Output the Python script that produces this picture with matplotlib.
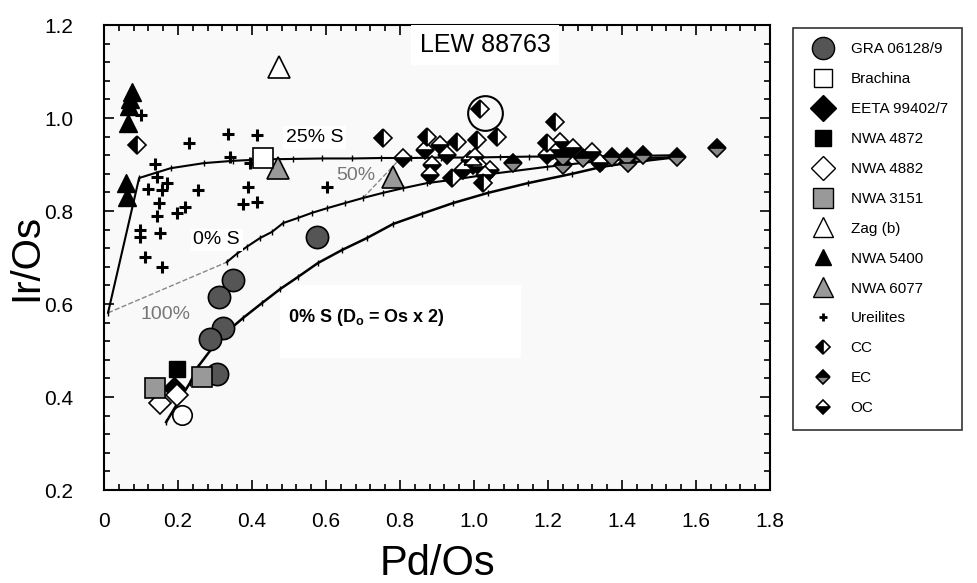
import numpy as np
import matplotlib
matplotlib.use("Agg")
import matplotlib.pyplot as plt
from matplotlib.lines import Line2D
from matplotlib.patches import Rectangle

plt.rcParams['font.family'] = ['Liberation Sans', 'DejaVu Sans']
plt.rcParams['mathtext.fontset'] = 'custom'
plt.rcParams['mathtext.rm'] = 'Liberation Sans'
plt.rcParams['mathtext.bf'] = 'Liberation Sans:bold'

# ---- data ----
gra_x = [0.349, 0.311, 0.322, 0.286, 0.305, 0.576]
gra_y = [0.652, 0.615, 0.548, 0.525, 0.449, 0.744]
brachina_x = [0.43]
brachina_y = [0.914]
eeta_x = [0.19]
eeta_y = [0.42]
nwa4872_x = [0.197]
nwa4872_y = [0.460]
nwa4882_x = [0.151, 0.197]
nwa4882_y = [0.387, 0.404]
nwa3151_x = [0.138, 0.265]
nwa3151_y = [0.419, 0.443]
zag_x = [0.473]
zag_y = [1.11]
nwa5400_x = [0.075, 0.070, 0.068, 0.065, 0.060, 0.063]
nwa5400_y = [1.055, 1.040, 1.025, 0.990, 0.860, 0.830]
nwa6077_x = [0.470, 0.781]
nwa6077_y = [0.892, 0.873]
ure_x = [0.100, 0.335, 0.413, 0.230, 0.340, 0.395, 0.138, 0.143, 0.170, 0.119,
         0.157, 0.254, 0.390, 0.149, 0.219, 0.197, 0.376, 0.413, 0.143, 0.097,
         0.097, 0.151, 0.111, 0.157, 0.603]
ure_y = [1.006, 0.966, 0.964, 0.946, 0.916, 0.903, 0.901, 0.873, 0.860, 0.847,
         0.845, 0.845, 0.852, 0.817, 0.809, 0.796, 0.815, 0.819, 0.789, 0.759,
         0.744, 0.753, 0.701, 0.680, 0.852]
cc_x = [0.089, 0.755, 1.016, 0.873, 1.062, 1.219, 0.954, 1.008, 1.197, 0.941, 1.024]
cc_y = [0.942, 0.957, 1.019, 0.959, 0.959, 0.991, 0.948, 0.953, 0.946, 0.871, 0.860]
ec_x = [1.105, 1.241, 1.241, 1.295, 1.373, 1.414, 1.416, 1.457, 1.549, 1.657]
ec_y = [0.903, 0.916, 0.899, 0.914, 0.916, 0.916, 0.903, 0.920, 0.916, 0.935]
oc_x = [0.808, 0.868, 0.886, 0.881, 0.908, 0.927, 0.989, 1.016, 1.043, 0.970,
        1.214, 1.232, 1.197, 1.268, 1.319, 1.341, 0.997, 1.030, 1.003]
oc_y = [0.914, 0.931, 0.899, 0.877, 0.942, 0.920, 0.910, 0.895, 0.888, 0.888,
        0.931, 0.948, 0.920, 0.935, 0.927, 0.903, 0.900, 0.878, 0.916]
lew_open_x = [0.211]
lew_open_y = [0.361]
lew_ring_x = [1.03]
lew_ring_y = [1.011]

# mixing curves
c25_x = [0.011, 0.095, 0.18, 0.27, 0.35, 0.43, 0.51, 0.59, 0.67, 0.75, 0.83, 0.91,
         0.99, 1.07, 1.15, 1.23, 1.31, 1.39, 1.47, 1.55]
c25_y = [0.581, 0.871, 0.892, 0.903, 0.908, 0.911, 0.912, 0.913, 0.913, 0.914, 0.914,
         0.915, 0.915, 0.916, 0.917, 0.917, 0.918, 0.918, 0.919, 0.920]
c0_x = [0.332, 0.359, 0.386, 0.422, 0.454, 0.484, 0.524, 0.562, 0.603, 0.651, 0.700,
        0.754, 0.808, 0.873, 0.941, 1.049, 1.197, 1.346, 1.468, 1.549]
c0_y = [0.690, 0.708, 0.723, 0.742, 0.755, 0.774, 0.785, 0.796, 0.806, 0.817, 0.828,
        0.839, 0.849, 0.860, 0.867, 0.880, 0.895, 0.908, 0.914, 0.916]
c0d_x = [0.168, 0.232, 0.254, 0.295, 0.332, 0.376, 0.427, 0.476, 0.524, 0.578, 0.643,
         0.711, 0.781, 0.859, 0.943, 1.038, 1.146, 1.265, 1.346, 1.430, 1.549]
c0d_y = [0.346, 0.430, 0.465, 0.508, 0.540, 0.570, 0.602, 0.632, 0.658, 0.688, 0.716,
         0.742, 0.772, 0.794, 0.817, 0.839, 0.860, 0.880, 0.895, 0.905, 0.916]
dash100_x = [0.011, 0.332]
dash100_y = [0.581, 0.690]
dash50_x = [0.700, 0.800]
dash50_y = [0.828, 0.912]

fig = plt.figure(figsize=(9.77, 5.83), dpi=100)
ax = fig.add_axes([0.1064, 0.1595, 0.6817, 0.7976])
ax.set_facecolor('#f9f9f9')

# white panel behind the bold label
ax.add_patch(Rectangle((0.476, 0.484), 0.65, 0.157, facecolor='white', edgecolor='none', zorder=1))

# curves
ax.plot(dash100_x, dash100_y, color='#888888', lw=1, ls='--', zorder=2)
ax.plot(dash50_x, dash50_y, color='#888888', lw=1, ls='--', zorder=2)
ax.plot(c25_x, c25_y, color='black', lw=1.5, marker='|', ms=5, mew=1, zorder=3)
ax.plot(c0_x, c0_y, color='black', lw=1.5, marker='|', ms=5, mew=1, zorder=3)
ax.plot(c0d_x, c0d_y, color='black', lw=1.8, marker='|', ms=5, mew=1, zorder=3)

# chondrites
ax.plot(oc_x, oc_y, ls='none', marker='D', ms=9, mfc='black', mfcalt='white',
        fillstyle='bottom', mec='black', mew=1.2, zorder=4)
ax.plot(cc_x, cc_y, ls='none', marker='D', ms=9, mfc='black', mfcalt='white',
        fillstyle='left', mec='black', mew=1.2, zorder=4)
ax.plot(ec_x, ec_y, ls='none', marker='D', ms=9, mfc='black', mfcalt='#888888',
        fillstyle='top', mec='black', mew=1.2, zorder=4)

ax.plot(ure_x, ure_y, ls='none', marker='+', ms=8, mew=2.2, color='black', zorder=4)
ax.plot(nwa5400_x, nwa5400_y, ls='none', marker='^', ms=13, mfc='black', mec='black', zorder=5)
ax.plot(nwa6077_x, nwa6077_y, ls='none', marker='^', ms=16, mfc='#999999', mec='black', mew=1.2, zorder=5)
ax.plot(zag_x, zag_y, ls='none', marker='^', ms=16, mfc='white', mec='black', mew=1.2, zorder=5)
ax.plot(gra_x, gra_y, ls='none', marker='o', ms=16, mfc='#555555', mec='black', mew=1.2, zorder=5)
ax.plot(lew_open_x, lew_open_y, ls='none', marker='o', ms=14, mfc='white', mec='black', mew=1.2, zorder=6)
ax.plot(eeta_x, eeta_y, ls='none', marker='D', ms=11, mfc='black', mec='black', zorder=6)
ax.plot(nwa4872_x, nwa4872_y, ls='none', marker='s', ms=12, mfc='black', mec='black', zorder=6)
ax.plot(nwa4882_x, nwa4882_y, ls='none', marker='D', ms=11, mfc='white', mec='black', mew=1.2, zorder=7)
ax.plot(nwa3151_x, nwa3151_y, ls='none', marker='s', ms=14, mfc='#999999', mec='black', mew=1.2, zorder=7)
ax.plot(brachina_x, brachina_y, ls='none', marker='s', ms=15, mfc='white', mec='black', mew=1.2, zorder=5)
ax.plot(lew_ring_x, lew_ring_y, ls='none', marker='o', ms=25, mfc='none', mec='black', mew=1.5, zorder=6)

# annotations
ax.text(1.03, 1.157, 'LEW 88763', fontsize=18, ha='center', va='center', zorder=8,
        bbox=dict(facecolor='white', edgecolor='none', pad=6))
ax.text(0.57, 0.958, '25% S', fontsize=14, ha='center', va='center', zorder=8,
        bbox=dict(facecolor='white', edgecolor='none', pad=2))
ax.text(0.68, 0.876, '50%', fontsize=14, color='#777777', ha='center', va='center', zorder=8)
ax.text(0.305, 0.738, '0% S', fontsize=14, ha='center', va='center', zorder=8,
        bbox=dict(facecolor='white', edgecolor='none', pad=2))
ax.text(0.165, 0.577, '100%', fontsize=14, color='#777777', ha='center', va='center', zorder=8)
ax.text(0.497, 0.571, r'0% S (D$_{\mathbf{o}}$ = Os x 2)', fontsize=13, fontweight='bold',
        ha='left', va='center', zorder=8)

ax.set_xlim(0, 1.8)
ax.set_ylim(0.2, 1.2)
ax.set_xticks(np.arange(0, 1.81, 0.2))
ax.set_xticklabels(['0', '0.2', '0.4', '0.6', '0.8', '1.0', '1.2', '1.4', '1.6', '1.8'])
ax.set_yticks(np.arange(0.2, 1.21, 0.2))
ax.set_yticklabels(['0.2', '0.4', '0.6', '0.8', '1.0', '1.2'])
ax.set_xticks(np.arange(0, 1.801, 0.04), minor=True)
ax.set_yticks(np.arange(0.2, 1.201, 0.04), minor=True)
ax.tick_params(which='both', direction='in', top=True, right=True, width=1.2)
ax.tick_params(which='major', length=7, labelsize=15)
ax.tick_params(which='minor', length=4)
ax.tick_params(axis='y', which='major', pad=22)
ax.tick_params(axis='x', which='major', pad=16)
for s in ax.spines.values():
    s.set_linewidth(1.5)

ax.set_xlabel('Pd/Os', fontsize=30, labelpad=9)
ax.set_ylabel('Ir/Os', fontsize=29, labelpad=-1)

handles = [
    Line2D([], [], ls='none', marker='o', ms=16, mfc='#555555', mec='black'),
    Line2D([], [], ls='none', marker='s', ms=13, mfc='white', mec='black'),
    Line2D([], [], ls='none', marker='D', ms=13, mfc='black', mec='black'),
    Line2D([], [], ls='none', marker='s', ms=11, mfc='black', mec='black'),
    Line2D([], [], ls='none', marker='D', ms=12, mfc='white', mec='black'),
    Line2D([], [], ls='none', marker='s', ms=14, mfc='#999999', mec='black'),
    Line2D([], [], ls='none', marker='^', ms=15, mfc='white', mec='black'),
    Line2D([], [], ls='none', marker='^', ms=12, mfc='black', mec='black'),
    Line2D([], [], ls='none', marker='^', ms=15, mfc='#999999', mec='black'),
    Line2D([], [], ls='none', marker='+', ms=6, mew=2, color='black'),
    Line2D([], [], ls='none', marker='D', ms=7, mfc='black', mfcalt='white', fillstyle='left', mec='black', mew=1.2),
    Line2D([], [], ls='none', marker='D', ms=7, mfc='black', mfcalt='#888888', fillstyle='top', mec='black', mew=1.2),
    Line2D([], [], ls='none', marker='D', ms=7, mfc='black', mfcalt='white', fillstyle='bottom', mec='black', mew=1.2),
]
labels = ['GRA 06128/9', 'Brachina', 'EETA 99402/7', 'NWA 4872', 'NWA 4882', 'NWA 3151',
          'Zag (b)', 'NWA 5400', 'NWA 6077', 'Ureilites', 'CC', 'EC', 'OC']
leg = fig.legend(handles, labels, loc='upper left', bbox_to_anchor=(0.812, 0.952),
                 fontsize=11, frameon=True, fancybox=False, edgecolor='black',
                 handlelength=2.0, handletextpad=0.8, borderpad=0.95, labelspacing=1.04,
                 borderaxespad=0)
leg.get_frame().set_linewidth(1.2)

fig.savefig('out.png', dpi=100)
